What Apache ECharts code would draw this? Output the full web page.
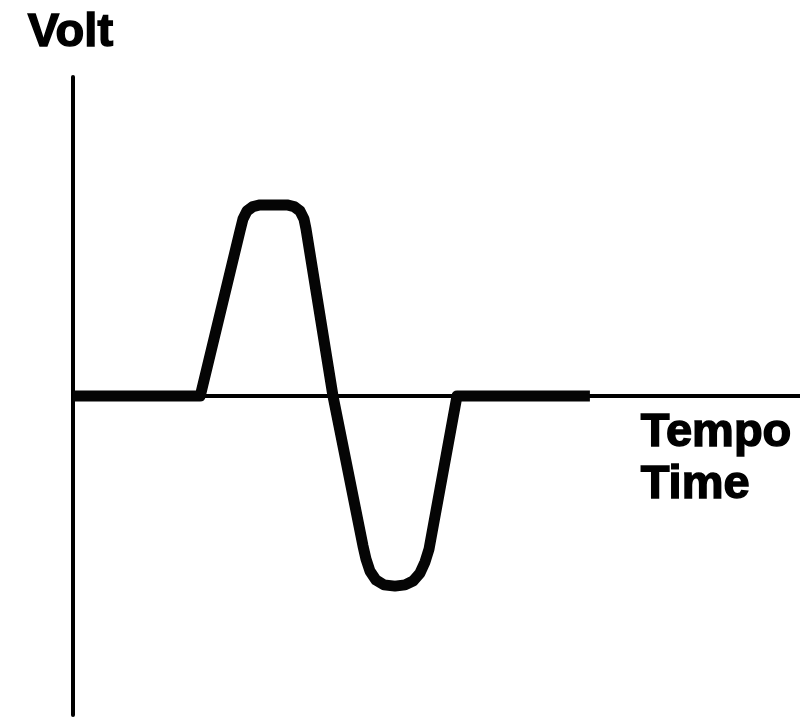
<!DOCTYPE html>
<html>
<head>
<meta charset="utf-8">
<script src="https://cdn.jsdelivr.net/npm/echarts@6/dist/echarts.min.js"></script>
<style>html,body{margin:0;padding:0;background:#fff}#c{width:800px;height:720px}</style>
</head>
<body>
<div id="c"></div>
<script>
// waveform: time (arbitrary units) vs voltage
var timeValues = [0, 17.5, 22.97, 23.38, 23.93, 24.76, 25.72, 29.44, 30.40, 31.22, 31.77, 32.05, 35.76,
                  39.89, 40.30, 40.85, 41.68, 42.78, 44.29, 45.67, 46.77, 47.73, 48.42, 48.97, 52.82, 71.1];
var voltValues = [0, 0, 5.17, 5.55, 5.80, 5.94, 5.99, 5.99, 5.94, 5.80, 5.55, 5.24, 0,
                  -4.70, -5.11, -5.49, -5.77, -5.92, -5.96, -5.92, -5.80, -5.55, -5.20, -4.80, 0, 0];
var yAxisLabel = 'Volt';
var xAxisLabels = ['Tempo', 'Time'];

var chart = echarts.init(document.getElementById('c'));
var data = timeValues.map(function (t, i) { return [t, voltValues[i]]; });
var font = '"Liberation Sans", Arial, sans-serif';
var txtStyle = function (t, size) {
  return { text: t, font: 'bold ' + size + 'px ' + font, fill: '#000', stroke: '#000', lineWidth: 1.5 };
};
chart.setOption({
  animation: false,
  backgroundColor: '#fff',
  grid: { left: 73, right: 0, top: 77, bottom: 5 },
  xAxis: {
    type: 'value', min: 0, max: 100,
    axisLine: { onZero: true, lineStyle: { color: '#000', width: 4 } },
    axisTick: { show: false }, axisLabel: { show: false }, splitLine: { show: false }
  },
  yAxis: {
    type: 'value', min: -10, max: 10,
    axisLine: { show: true, onZero: false, lineStyle: { color: '#000', width: 4 } },
    axisTick: { show: false }, axisLabel: { show: false }, splitLine: { show: false }
  },
  series: [{
    type: 'line',
    data: data,
    symbol: 'none',
    smooth: false,
    lineStyle: { color: '#050505', width: 11, cap: 'butt', join: 'round' }
  }],
  graphic: [
    { type: 'text', left: 27, top: 9, style: txtStyle(yAxisLabel, 47) },
    { type: 'text', left: 640, top: 409, style: txtStyle(xAxisLabels[0], 47) },
    { type: 'text', left: 640, top: 461, style: txtStyle(xAxisLabels[1], 47) }
  ]
});
</script>
</body>
</html>
